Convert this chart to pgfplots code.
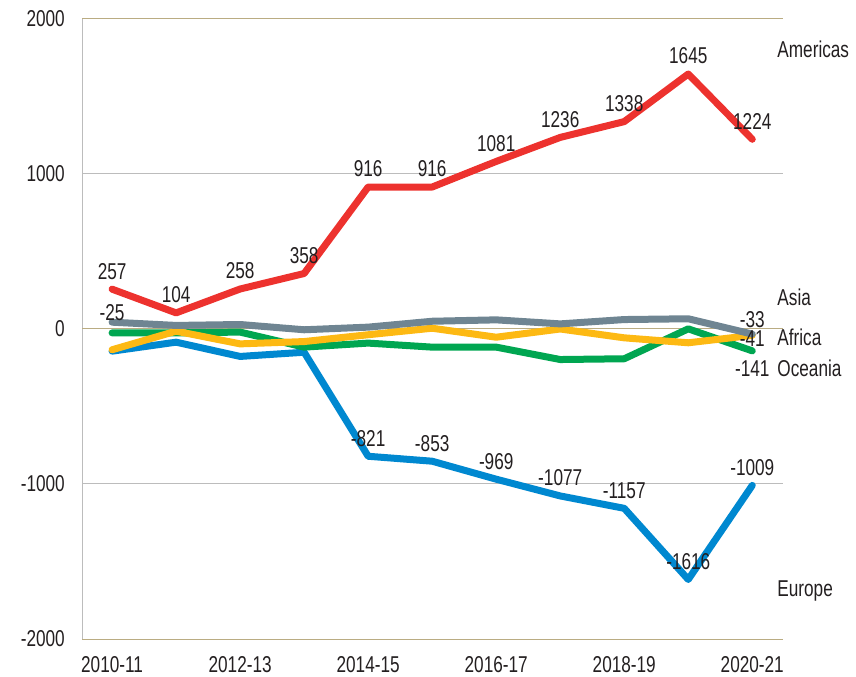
\documentclass[border=0pt]{standalone}
\usepackage{pgfplots}
\pgfplotsset{compat=1.18}
\usepackage{fontspec}
\setmainfont[FakeStretch=0.75]{Liberation Sans}
\definecolor{cRed}{RGB}{237,50,46}
\definecolor{cBlue}{RGB}{0,136,208}
\definecolor{cGrey}{RGB}{111,133,146}
\definecolor{cYellow}{RGB}{253,185,19}
\definecolor{cGreen}{RGB}{0,166,81}
\definecolor{cText}{RGB}{35,31,32}
\definecolor{cGrid}{RGB}{188,188,188}
\definecolor{cTan}{RGB}{186,172,130}
\newcommand\cf{\fontsize{23}{26}\selectfont}
\begin{document}
\begin{tikzpicture}
\begin{axis}[
  at={(82bp,38bp)}, anchor=south west,
  scale only axis, width=701bp, height=620bp,
  xmin=-0.47, xmax=10.48, ymin=-2000, ymax=2000,
  clip=false,
  axis x line=bottom, axis y line=left,
  x axis line style={-, draw=cTan, line width=1bp},
  y axis line style={-, draw=cGrid, line width=1bp},
  major tick length=0pt, tick style={draw=none},
  xtick={0,2,4,6,8,10},
  xticklabels={2010-11,2012-13,2014-15,2016-17,2018-19,2020-21},
  ytick={-2000,-1000,1000},
  yticklabels={-2000,-1000,1000},
  extra y ticks={0,2000},
  extra y tick labels={0,2000},
  extra y tick style={grid style={draw=cTan, line width=1bp}},
  ymajorgrids,
  grid style={draw=cGrid, line width=1bp},
  /pgf/number format/assume math mode=true,
  tick label style={font=\cf, text=cText, inner sep=0pt},
  yticklabel style={anchor=east, xshift=-17bp},
  xticklabel style={anchor=north, yshift=-17.5bp},
  every axis plot/.append style={line width=7bp, line join=round, line cap=round, mark=none},
  nodes near coords style={font=\cf, text=cText, inner sep=0pt, anchor=center},
]
% Europe
\addplot[cBlue] coordinates {(0,-143)(1,-85)(2,-177)(3,-150)(4,-821)(5,-853)(6,-969)(7,-1077)(8,-1157)(9,-1616)(10,-1009)};
% Americas
\addplot[cRed] coordinates {(0,257)(1,104)(2,258)(3,358)(4,916)(5,916)(6,1081)(7,1236)(8,1338)(9,1645)(10,1224)};
% Oceania
\addplot[cGreen] coordinates {(0,-25)(1,-25)(2,-20)(3,-117)(4,-91)(5,-117)(6,-117)(7,-197)(8,-192)(9,1)(10,-141)};
% Africa
\addplot[cYellow] coordinates {(0,-134)(1,-14)(2,-96)(3,-81)(4,-37)(5,5)(6,-53)(7,0)(8,-57)(9,-89)(10,-41)};
% Asia
\addplot[cGrey] coordinates {(0,44)(1,23)(2,29)(3,-5)(4,12)(5,50)(6,59)(7,33)(8,61)(9,66)(10,-33)};

% value labels
\addplot[draw=none, nodes near coords, point meta=explicit symbolic,
  nodes near coords style={yshift=18bp}] coordinates {
  (0,257)[257] (1,104)[104] (2,258)[258] (3,358)[358] (4,916)[916] (5,916)[916]
  (6,1081)[1081] (7,1236)[1236] (8,1338)[1338] (9,1645)[1645] (10,1224)[1224]};
\addplot[draw=none, nodes near coords, point meta=explicit symbolic,
  nodes near coords style={yshift=18bp}] coordinates {
  (4,-821)[-821] (5,-853)[-853] (6,-969)[-969] (7,-1077)[-1077] (8,-1157)[-1157]
  (9,-1616)[-1616] (10,-1009)[-1009]};
\addplot[draw=none, nodes near coords, point meta=explicit symbolic,
  nodes near coords style={yshift=20bp}] coordinates {(0,-25)[-25]};
\addplot[draw=none, nodes near coords, point meta=explicit symbolic,
  nodes near coords style={yshift=15bp}] coordinates {(10,-33)[-33]};
\addplot[draw=none, nodes near coords, point meta=explicit symbolic,
  nodes near coords style={yshift=-3bp}] coordinates {(10,-41)[-41]};
\addplot[draw=none, nodes near coords, point meta=explicit symbolic,
  nodes near coords style={yshift=-18bp}] coordinates {(10,-141)[-141]};

% series names
\node[anchor=west, inner sep=0pt, font=\cf, text=cText] at (axis cs:10.39,1807) {Americas};
\node[anchor=west, inner sep=0pt, font=\cf, text=cText] at (axis cs:10.39,203) {Asia};
\node[anchor=west, inner sep=0pt, font=\cf, text=cText] at (axis cs:10.39,-55) {Africa};
\node[anchor=west, inner sep=0pt, font=\cf, text=cText] at (axis cs:10.39,-255) {Oceania};
\node[anchor=west, inner sep=0pt, font=\cf, text=cText] at (axis cs:10.39,-1691) {Europe};
\end{axis}
\pgfresetboundingbox
\useasboundingbox (0,0) rectangle (856bp,677bp);
\end{tikzpicture}
\end{document}
